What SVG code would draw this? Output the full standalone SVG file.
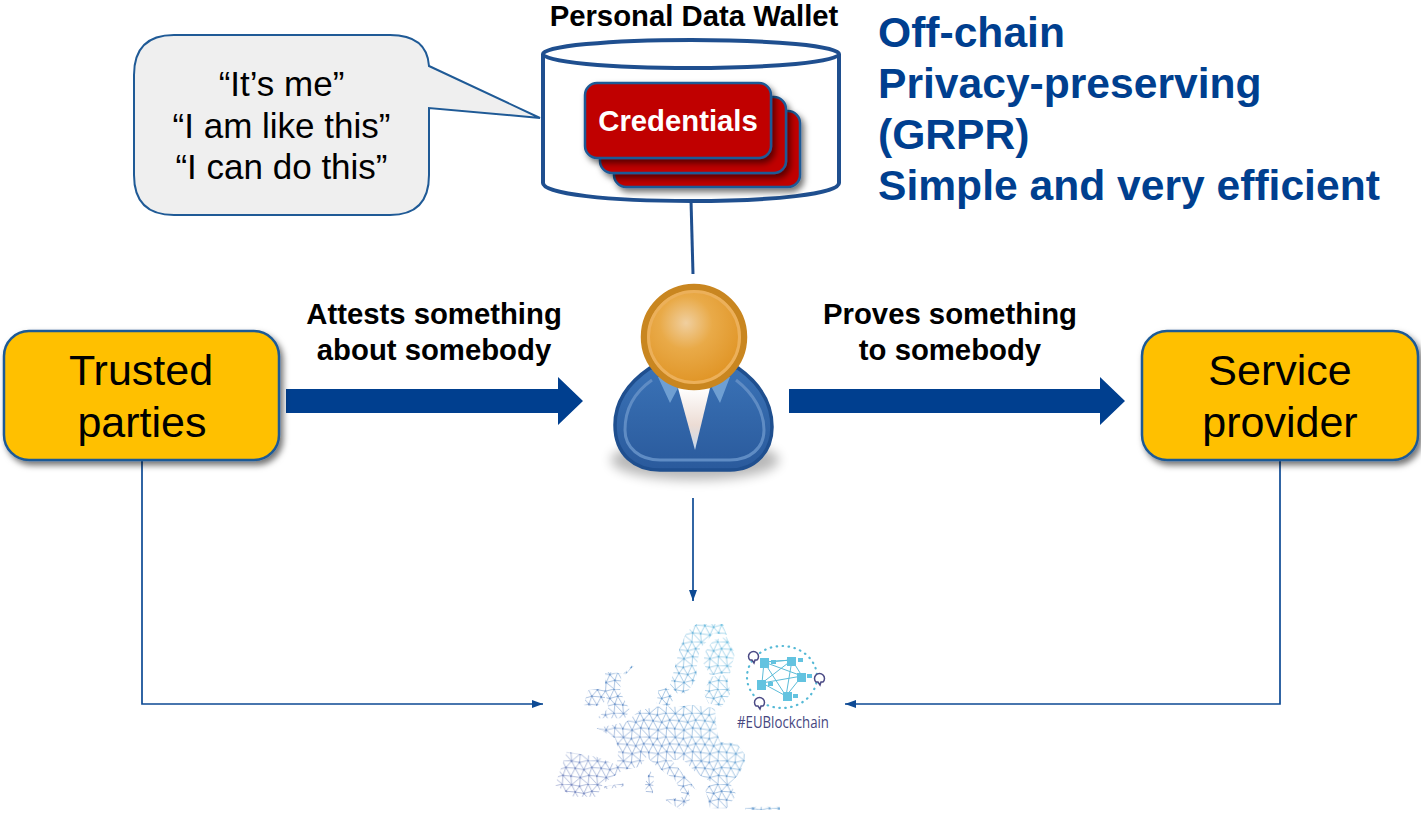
<svg xmlns="http://www.w3.org/2000/svg" width="1421" height="813" viewBox="0 0 1421 813">
<style>
text{font-family:"Liberation Sans",Arial,sans-serif}
.b{font-weight:bold;fill:#000;font-size:29.300px;text-anchor:middle}
.h{font-weight:bold;fill:#003f8f;font-size:42.600px}
.box{fill:#ffc000;stroke:#1f5a96;stroke-width:2.5;filter:url(#sh)}
.big{font-size:43px;text-anchor:middle;fill:#000}
.q{font-size:35px;text-anchor:middle;fill:#000}
.card{fill:#c00000;stroke:#1f5a96;stroke-width:2.5;filter:url(#sh)}
.thin{fill:none;stroke:#0d4a94;stroke-width:1.7}
.fat{fill:#003f8f}
.link{stroke:#5cbcd8;stroke-width:1;fill:none}
.blk{fill:#63c3e0}
.sp{fill:#fff;stroke:#4b4a85;stroke-width:1.5}
</style>
<defs>
<filter id="sh" x="-10%" y="-10%" width="125%" height="130%"><feDropShadow dx="3" dy="4" stdDeviation="3" flood-color="#000" flood-opacity=".55"/></filter>
<filter id="soft" x="-30%" y="-60%" width="160%" height="220%"><feGaussianBlur stdDeviation="6"/></filter>
<filter id="tiny"><feGaussianBlur stdDeviation=".2"/></filter>
<marker id="ah" markerWidth="12" markerHeight="10" refX="11" refY="4" orient="auto" markerUnits="userSpaceOnUse"><path d="M0 0L11 4L0 8Z" fill="#0d4a94"/></marker>
<radialGradient id="head" cx=".42" cy=".36" r=".66"><stop offset="0" stop-color="#f0cf9f"/><stop offset=".4" stop-color="#e9aa48"/><stop offset="1" stop-color="#df9222"/></radialGradient>
<linearGradient id="body" x1="0" y1="0" x2="0" y2="1"><stop offset="0" stop-color="#3a72b6"/><stop offset="1" stop-color="#2a5a9c"/></linearGradient>
<linearGradient id="shirt" x1="0" y1="0" x2="0" y2="1"><stop offset="0" stop-color="#fff"/><stop offset=".6" stop-color="#ecdcd4"/><stop offset="1" stop-color="#c5d8ec"/></linearGradient>
<linearGradient id="mapc" gradientUnits="userSpaceOnUse" x1="560" y1="790" x2="740" y2="630"><stop offset="0" stop-color="#7482bc"/><stop offset=".5" stop-color="#6494cb"/><stop offset="1" stop-color="#62bfe0"/></linearGradient>
<g id="tile">
<path d="M2 1L13 3L25 0L38 1M7 11L19 13L30 10L43 11M1 22L14 24L26 21L37 22M2 1L7 11L13 3L19 13L25 0L30 10L38 1M7 11L1 22M7 11L14 24L19 13L26 21L30 10L37 22M1 22L2 34L14 24L13 36M14 24L25 33L26 21L38 34" fill="none" stroke="#fff" stroke-width=".75"/>
<g fill="#fff"><circle cx="2" cy="1" r="1.300"/><circle cx="13" cy="3" r="1.300"/><circle cx="25" cy="0" r="1.300"/><circle cx="7" cy="11" r="1.300"/><circle cx="19" cy="13" r="1.300"/><circle cx="30" cy="10" r="1.300"/><circle cx="1" cy="22" r="1.300"/><circle cx="14" cy="24" r="1.300"/><circle cx="26" cy="21" r="1.300"/></g>
</g>
<pattern id="mesh" width="36" height="33" patternUnits="userSpaceOnUse" patternTransform="scale(.72)">
<use href="#tile"/><use href="#tile" x="-36"/><use href="#tile" y="-33"/><use href="#tile" x="-36" y="-33"/>
</pattern>
<mask id="mm" maskUnits="userSpaceOnUse" x="540" y="610" width="300" height="203">
<rect x="540" y="610" width="300" height="203" fill="url(#mesh)"/>
</mask>
<clipPath id="eu">
<path transform="translate(540 610) scale(.33333)" d="M440 65L470 42L550 42L560 75L520 70L500 95L480 115L470 170L470 205L440 250L410 250L390 225L405 170L420 110Z
M520 90L560 80L585 130L570 190L510 195L490 160L495 125Z
M510 200L560 195L572 250L545 290L505 280L492 250Z
M355 240L385 232L400 270L385 290L350 280Z
M195 185L245 190L240 245L270 300L255 325L170 325L205 295L195 240Z
M130 285L145 240L195 235L195 275L165 290Z
M170 355L260 335L300 300L350 290L410 290L460 285L525 295L530 360L540 395L590 400L620 440L600 490L570 520L590 555L560 595L510 595L495 535L520 520L470 490L430 450L395 450L470 540L445 525L450 570L420 598L375 570L430 560L405 510L345 465L320 440L300 470L250 480L190 520L170 560L100 560L45 525L80 425L170 440L230 465L235 420L225 385Z
M315 520L330 480L342 500L338 550L318 550Z
M190 530L250 520L250 530L195 538Z
M248 192L283 160L285 164L252 198Z
M615 592L650 590L720 590L720 600L615 600Z"/>
</clipPath>
</defs>
<rect width="1421" height="813" fill="#fff"/>
<g id="connectors">
<path d="M691 200L693 274" fill="none" stroke="#1f4f8f" stroke-width="3"/>
<path class="fat" d="M286 389H558V377L583 401L558 425V413H286Z"/>
<path class="fat" d="M789 389H1100V377L1125 401L1100 425V413H789Z"/>
<path class="thin" d="M142 460V704H543" marker-end="url(#ah)"/>
<path class="thin" d="M1280 460V704H845" marker-end="url(#ah)"/>
<path class="thin" d="M693 498V601" marker-end="url(#ah)"/>
</g>
<g id="bubble">
<path d="M174 35H390Q427 35 429 66L540 118L429 108V175Q429 215 390 215H174Q134 215 134 175V75Q134 35 174 35Z" fill="#efefef" stroke="#1f5a96" stroke-width="2"/>
<text class="q" x="281.500" y="96">“It’s me”</text>
<text class="q" x="281.500" y="138">“I am like this”</text>
<text class="q" x="281.500" y="179">“I can do this”</text>
</g>
<g id="wallet">
<text class="b" x="694" y="26">Personal Data Wallet</text>
<path d="M543 54V183C543 194 609 201 691 201S839 194 839 183V54" fill="#fff" stroke="#1f4f8f" stroke-width="4"/>
<ellipse cx="691" cy="54" rx="148" ry="14" fill="#fff" stroke="#1f4f8f" stroke-width="4"/>
<rect class="card" x="614" y="111" width="186" height="76" rx="12"/>
<rect class="card" x="600" y="97" width="186" height="76" rx="12"/>
<rect class="card" x="585" y="83" width="186" height="75" rx="12"/>
<text x="678" y="131" font-size="29.300" font-weight="bold" fill="#fff" text-anchor="middle">Credentials</text>
</g>
<g id="notes">
<text class="h" x="878" y="47">Off-chain</text>
<text class="h" x="878" y="98">Privacy-preserving</text>
<text class="h" x="878" y="149">(GRPR)</text>
<text class="h" x="878" y="200">Simple and very efficient</text>
</g>
<g id="trusted">
<rect class="box" x="4" y="331" width="275" height="129" rx="25"/>
<text class="big" x="141" y="385">Trusted</text>
<text class="big" x="142" y="437">parties</text>
</g>
<g id="provider">
<rect class="box" x="1142" y="331" width="276" height="129" rx="25"/>
<text class="big" x="1280" y="385">Service</text>
<text class="big" x="1280" y="437">provider</text>
</g>
<g id="attests">
<text class="b" x="434" y="324">Attests something</text>
<text class="b" x="434" y="360">about somebody</text>
</g>
<g id="proves">
<text class="b" x="950" y="324">Proves something</text>
<text class="b" x="950" y="360">to somebody</text>
</g>
<g id="person">
<ellipse cx="695" cy="460" rx="84" ry="20" fill="#000" opacity=".28" filter="url(#soft)"/>
<path d="M650 368C625 385 615 405 615 425C615 455 635 470 660 470H730C755 470 772 452 772 427C772 405 762 385 738 368Z" fill="url(#body)" stroke="#1f4f8f" stroke-width="3.500"/>
<path d="M652 380C632 394 625 412 625 430C625 448 640 460 660 460H730C750 460 764 448 764 430C764 412 754 394 736 380" fill="none" stroke="#5f8cc4" stroke-width="3"/>
<path d="M678 388L695 450L710 388Z" fill="url(#shirt)"/>
<path d="M658 377L670 403L678 388L676 377Z M730 377L720 403L712 388L716 377Z" fill="#6f9fd2"/>
<circle cx="694" cy="337" r="50" fill="url(#head)" stroke="#c98620" stroke-width="6.500"/>
<circle cx="694" cy="337" r="45.500" fill="none" stroke="#ecb05a" stroke-width="3"/>
</g>
<g id="eublockchain">
<g clip-path="url(#eu)"><rect x="540" y="610" width="300" height="203" fill="url(#mapc)" mask="url(#mm)" filter="url(#tiny)"/></g>
<ellipse cx="782" cy="677" rx="35" ry="31" fill="none" stroke="#55b9d6" stroke-width="2.200" stroke-dasharray=".5 5.500" stroke-linecap="round"/>
<path class="link" d="M764 662L792 660L802 676L786 696L762 683ZM764 662L802 676L762 683L792 660ZM764 662L786 696M792 660L786 696"/>
<g class="blk">
<rect x="760" y="658" width="9" height="10"/><rect x="787" y="657" width="9" height="9"/><rect x="797" y="673" width="9" height="9"/><rect x="757" y="680" width="9" height="10"/><rect x="783" y="692" width="9" height="9"/>
<rect x="771" y="660" width="5" height="4"/><rect x="798" y="658" width="5" height="4"/><rect x="807" y="674" width="5" height="4"/><rect x="768" y="682" width="5" height="4"/><rect x="793" y="694" width="5" height="4"/>
</g>
<g class="sp">
<path d="M750 660A5 5 0 1 1 757 660L755 660L754 663L752 660Z"/>
<path d="M816 682A5 5 0 1 1 823 682L821 682L820 685L818 682Z"/>
<path d="M756 706A5 5 0 1 1 763 706L761 706L760 709L758 706Z"/>
</g>
<text x="737" y="728" font-size="15.500" fill="#47477f" textLength="92" lengthAdjust="spacingAndGlyphs" style="font-family:'Open Sans',sans-serif">#EUBlockchain</text>
</g>
</svg>
